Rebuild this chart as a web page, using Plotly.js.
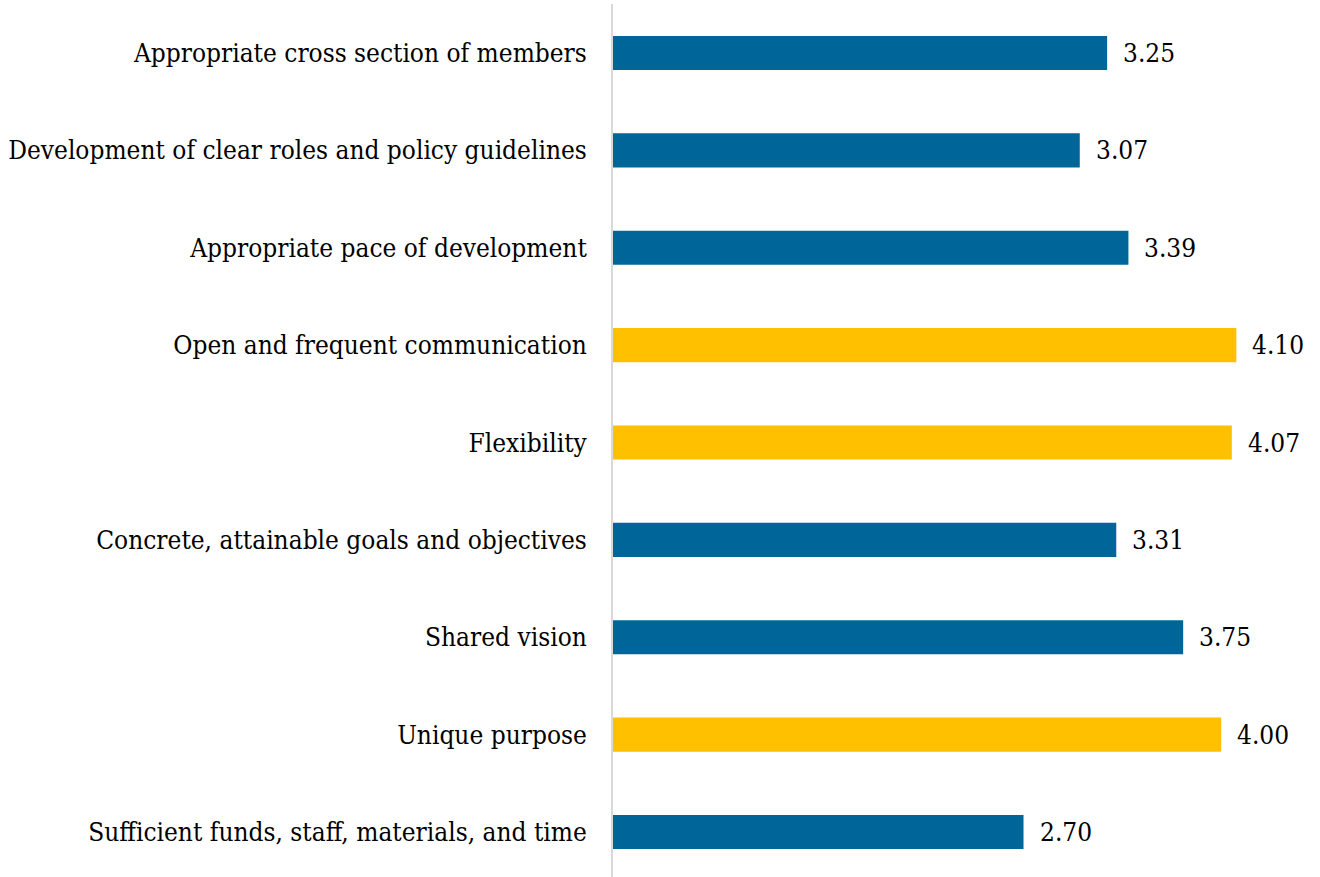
<!DOCTYPE html>
<html>
<head>
<meta charset="utf-8">
<script src="https://cdn.plot.ly/plotly-3.0.1.min.js"></script>
<style>html,body{margin:0;padding:0;background:#fff;}#chart{width:1320px;height:877px;}</style>
</head>
<body>
<div id="chart"></div>
<script>
const categories = [
  "Appropriate cross section of members",
  "Development of clear roles and policy guidelines",
  "Appropriate pace of development",
  "Open and frequent communication",
  "Flexibility",
  "Concrete, attainable goals and objectives",
  "Shared vision",
  "Unique purpose",
  "Sufficient funds, staff, materials, and time"
];
const values = [3.25, 3.07, 3.39, 4.10, 4.07, 3.31, 3.75, 4.00, 2.70];
const highlighted = [false, false, false, true, true, false, false, true, false];

const BLUE = "#006699";
const GOLD = "#FFC000";
const FONT = "DejaVu Serif Condensed, Liberation Serif, serif";

const trace = {
  type: "bar",
  orientation: "h",
  y: categories,
  x: values,
  marker: { color: highlighted.map(h => h ? GOLD : BLUE) },
  width: 0.35,
  hoverinfo: "skip"
};

const annotations = categories.map((c, i) => ({
  x: values[i], y: c, xref: "x", yref: "y",
  text: values[i].toFixed(2),
  showarrow: false, xanchor: "left", yanchor: "middle", xshift: 14,
  font: { family: FONT, size: 26, color: "#000" }
}));

const layout = {
  width: 1320, height: 877,
  margin: { l: 613, r: 0, t: 4, b: 0 },
  paper_bgcolor: "#fff", plot_bgcolor: "#fff",
  showlegend: false,
  font: { family: FONT, size: 26, color: "#000" },
  xaxis: { range: [0, 4.65], showgrid: false, zeroline: false, showticklabels: false, showline: false, fixedrange: true },
  yaxis: {
    type: "category",
    range: [8.462, -0.503],
    showgrid: false, zeroline: false,
    showline: true, linecolor: "#d9d9d9", linewidth: 2,
    ticks: "", ticklabelstandoff: 19,
    tickfont: { family: FONT, size: 26, color: "#000" },
    fixedrange: true
  },
  annotations: annotations
};

Plotly.newPlot("chart", [trace], layout, { displayModeBar: false, staticPlot: true });
</script>
</body>
</html>
